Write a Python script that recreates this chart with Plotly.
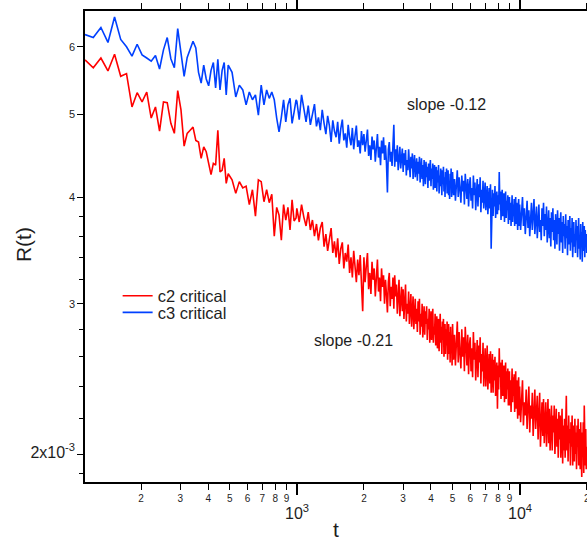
import math
import plotly.graph_objects as go

# ---------------- data ----------------
# time grid (simulation sampling)
t_early = list(range(112, 500, 10))
t_mid = list(range(512, 1000, 20))
t_late = (list(range(1000, 2000, 25)) + list(range(2000, 5000, 25))
          + list(range(5000, 10000, 50)) + list(range(10000, 20001, 100)))
t = t_early + t_mid + t_late

# R(t) in units of 1e-3
c2_early = [5.79, 5.67, 5.82, 5.62, 5.88, 5.54, 5.58, 5.10, 5.30, 5.17,
            5.31, 4.95, 5.10, 4.78, 5.17, 5.16, 4.88, 4.75, 5.33, 5.06,
            4.59, 4.75, 4.79, 4.83, 4.66, 4.64, 4.44, 4.58, 4.52, 4.36,
            4.25, 4.38, 4.36, 4.79, 4.28, 4.30, 4.44, 4.15, 4.26]
c2_mid = [4.19, 4.04, 4.17, 4.10, 4.12, 3.92, 4.08, 3.80, 4.19, 4.17,
          3.95, 4.08, 3.94, 4.03, 3.60, 3.89, 3.81, 3.56, 3.92, 3.76,
          3.89, 3.66, 3.97, 3.75, 3.78]
c2_late = [
    # 1000-1975
    3.88, 3.74, 3.92, 3.79, 3.70, 3.84, 3.66, 3.76, 3.60, 3.72,
    3.56, 3.68, 3.74, 3.50, 3.62, 3.46, 3.58, 3.68, 3.44, 3.55,
    3.40, 3.58, 3.34, 3.48, 3.54, 3.30, 3.44, 3.36, 3.52, 3.26,
    3.40, 3.22, 3.46, 3.30, 3.18, 3.38, 3.24, 3.42, 3.20, 2.94,
    # 2000-4975
    3.40, 3.18, 3.32, 3.44, 3.12, 3.26, 3.08, 3.36, 3.20, 3.30,
    3.06, 3.28, 3.38, 3.10, 3.22, 3.02, 3.30, 3.14, 3.24, 3.00,
    3.20, 3.08, 2.93, 3.18, 3.26, 2.98, 3.14, 3.04, 3.22, 2.96,
    3.24, 3.06, 3.16, 2.92, 3.10, 3.20, 2.90, 3.04, 3.14, 2.94,
    3.12, 2.88, 3.06, 3.16, 2.86, 3.00, 2.92, 3.10, 2.84, 3.02,
    3.08, 2.82, 2.98, 3.06, 2.80, 2.94, 3.04, 2.84, 2.96, 2.78,
    3.02, 2.86, 3.04, 2.76, 2.92, 2.82, 3.00, 2.74, 2.90, 2.98,
    2.76, 2.94, 2.84, 2.98, 2.72, 2.88, 2.80, 2.96, 2.70, 2.86,
    2.94, 2.72, 2.86, 2.96, 2.70, 2.82, 2.76, 2.92, 2.68, 2.84,
    2.90, 2.66, 2.80, 2.88, 2.64, 2.78, 2.92, 2.70, 2.82, 2.62,
    2.86, 2.72, 2.88, 2.60, 2.76, 2.84, 2.62, 2.80, 2.68, 2.86,
    2.58, 2.74, 2.84, 2.62, 2.78, 2.56, 2.82, 2.66, 2.74, 2.54,
    # 5000-9950
    2.84, 2.58, 2.76, 2.54, 2.70, 2.86, 2.56, 2.78, 2.62, 2.52,
    2.80, 2.60, 2.74, 2.50, 2.82, 2.64, 2.54, 2.76, 2.48, 2.68,
    2.74, 2.50, 2.66, 2.46, 2.78, 2.58, 2.70, 2.44, 2.62, 2.72,
    2.46, 2.68, 2.56, 2.74, 2.42, 2.62, 2.50, 2.70, 2.40, 2.58,
    2.66, 2.40, 2.56, 2.68, 2.38, 2.54, 2.62, 2.42, 2.64, 2.36,
    2.52, 2.62, 2.36, 2.58, 2.44, 2.60, 2.34, 2.50, 2.56, 2.26,
    2.54, 2.38, 2.66, 2.46, 2.56, 2.32, 2.48, 2.58, 2.34, 2.44,
    2.54, 2.30, 2.46, 2.56, 2.32, 2.50, 2.38, 2.52, 2.28, 2.44,
    2.50, 2.28, 2.44, 2.24, 2.42, 2.52, 2.30, 2.46, 2.34, 2.48,
    2.24, 2.40, 2.50, 2.26, 2.44, 2.32, 2.20, 2.42, 2.46, 2.22,
    # 10000-20000
    2.40, 2.18, 2.34, 2.44, 2.16, 2.30, 2.22, 2.38, 2.14, 2.32,
    2.40, 2.12, 2.28, 2.20, 2.36, 2.10, 2.26, 2.38, 2.14, 2.24,
    2.34, 2.08, 2.26, 2.36, 2.04, 2.22, 2.30, 2.10, 2.32, 2.06,
    2.24, 2.30, 2.04, 2.20, 2.32, 2.06, 2.26, 2.02, 2.18, 2.28,
    2.02, 2.22, 2.12, 2.28, 2.00, 2.18, 2.26, 2.04, 2.20, 1.98,
    2.24, 2.08, 2.22, 1.98, 2.14, 2.26, 1.95, 2.16, 2.02, 2.20,
    1.98, 2.18, 2.34, 2.02, 2.16, 1.96, 2.22, 2.06, 2.14, 1.94,
    2.18, 2.04, 2.22, 1.94, 2.10, 2.16, 1.96, 2.20, 2.00, 2.12,
    1.92, 2.16, 2.04, 2.20, 1.94, 2.08, 2.14, 1.92, 2.18, 2.00,
    1.88, 2.12, 2.02, 2.18, 1.90, 2.28, 2.06, 1.94, 2.14, 1.92,
    2.04]

c3_early = [6.20, 6.15, 6.32, 6.07, 6.50, 6.12, 6.00, 5.85, 6.04, 5.87,
            5.82, 5.77, 5.86, 5.65, 5.95, 6.15, 5.81, 5.67, 6.30, 5.86,
            5.54, 5.83, 5.95, 6.09, 5.98, 5.60, 5.44, 5.71, 5.50, 5.40,
            5.63, 5.75, 5.37, 5.80, 5.34, 5.63, 5.75, 5.27, 5.71]
c3_mid = [5.60, 5.24, 5.41, 5.34, 5.13, 5.31, 5.20, 5.27, 4.99, 5.41,
          5.13, 5.34, 5.22, 5.31, 5.20, 4.95, 4.77, 4.96, 5.20, 4.90,
          5.13, 5.22, 4.88, 5.03, 5.20]
c3_late = [
    # 1000-1975
    5.18, 4.93, 5.27, 5.08, 4.90, 5.12, 4.86, 5.00, 5.14, 4.84,
    4.96, 4.79, 5.06, 4.88, 4.74, 4.98, 4.85, 4.64, 4.92, 4.78,
    4.70, 4.90, 4.62, 4.81, 4.93, 4.66, 4.75, 4.57, 4.86, 4.70,
    4.60, 4.82, 4.55, 4.72, 4.85, 4.58, 4.66, 4.50, 4.78, 4.60,
    # 2000-4975
    4.74, 4.52, 4.68, 4.80, 4.47, 4.60, 4.42, 4.71, 4.55, 4.66,
    4.40, 4.62, 4.74, 4.45, 4.58, 4.36, 4.66, 4.50, 4.70, 4.42,
    4.60, 4.38, 4.05, 4.55, 4.64, 4.40, 4.52, 4.35, 4.62, 4.86,
    4.34, 4.55, 4.40, 4.60, 4.30, 4.48, 4.58, 4.32, 4.44, 4.56,
    4.28, 4.50, 4.36, 4.54, 4.24, 4.42, 4.30, 4.55, 4.38, 4.22,
    4.46, 4.32, 4.50, 4.20, 4.38, 4.48, 4.22, 4.34, 4.44, 4.18,
    4.40, 4.26, 4.46, 4.16, 4.32, 4.44, 4.20, 4.36, 4.12, 4.42,
    4.28, 4.14, 4.40, 4.22, 4.34, 4.10, 4.38, 4.18, 4.30, 4.42,
    4.12, 4.32, 4.20, 4.38, 4.08, 4.26, 4.36, 4.10, 4.22, 4.34,
    4.06, 4.30, 4.16, 4.36, 4.04, 4.24, 4.12, 4.32, 4.20, 4.02,
    4.30, 4.14, 4.34, 4.06, 4.22, 4.00, 4.28, 4.16, 4.32, 4.04,
    4.20, 4.30, 4.02, 4.18, 3.98, 4.26, 4.10, 4.32, 4.00, 4.22,
    # 5000-9950
    4.28, 4.02, 4.20, 3.96, 4.14, 4.30, 4.00, 4.22, 4.08, 3.94,
    4.24, 4.06, 4.18, 3.92, 4.26, 4.04, 3.98, 4.20, 3.90, 4.12,
    4.22, 3.96, 4.10, 3.88, 4.24, 4.02, 4.16, 3.86, 4.06, 4.20,
    3.90, 4.14, 4.00, 4.22, 3.84, 4.08, 3.94, 4.18, 3.88, 4.04,
    4.16, 3.86, 4.02, 4.12, 3.82, 3.98, 4.10, 3.88, 4.14, 3.48,
    3.94, 4.08, 3.80, 4.04, 3.90, 4.12, 3.78, 3.96, 4.06, 3.82,
    4.02, 3.86, 4.28, 3.92, 4.06, 3.76, 3.98, 4.08, 3.80, 3.94,
    4.04, 3.74, 3.92, 4.06, 3.78, 3.96, 3.86, 4.02, 3.72, 3.90,
    4.00, 3.76, 3.94, 3.70, 3.88, 4.02, 3.74, 3.92, 3.80, 3.98,
    3.70, 3.86, 4.00, 3.72, 3.94, 3.78, 3.66, 3.90, 3.98, 3.70,
    # 10000-20000
    3.92, 3.66, 3.84, 4.00, 3.70, 3.88, 3.62, 3.80, 3.96, 3.68,
    3.86, 3.60, 3.78, 3.94, 3.66, 3.84, 3.98, 3.62, 3.74, 3.90,
    3.58, 3.80, 3.92, 3.64, 3.76, 3.56, 3.88, 3.70, 3.94, 3.60,
    3.82, 3.66, 3.90, 3.54, 3.74, 3.86, 3.58, 3.78, 3.50, 3.84,
    3.64, 3.88, 3.56, 3.76, 3.48, 3.82, 3.68, 3.52, 3.86, 3.62,
    3.78, 3.46, 3.70, 3.84, 3.54, 3.74, 3.44, 3.80, 3.60, 3.72,
    3.48, 3.82, 3.58, 3.70, 3.42, 3.76, 3.52, 3.66, 3.80, 3.46,
    3.68, 3.54, 3.78, 3.40, 3.64, 3.74, 3.50, 3.62, 3.44, 3.76,
    3.56, 3.70, 3.40, 3.66, 3.78, 3.48, 3.60, 3.38, 3.72, 3.52,
    3.64, 3.36, 3.74, 3.46, 3.58, 3.70, 3.40, 3.66, 3.50, 3.62,
    3.44]

c2 = c2_early + c2_mid + c2_late
c3 = c3_early + c3_mid + c3_late

series_names = ["c2 critical", "c3 critical"]
series_colors = ["#ff0000", "#0040ff"]

x_tick_vals = [200, 300, 400, 500, 600, 700, 800, 900,
               2000, 3000, 4000, 5000, 6000, 7000, 8000, 9000, 20000]
x_tick_text = ["2", "3", "4", "5", "6", "7", "8", "9",
               "2", "3", "4", "5", "6", "7", "8", "9", "2"]
x_decades = [1000, 10000]
x_decade_text = ["10<sup>3</sup>", "10<sup>4</sup>"]

y_tick_vals = [2, 3, 4, 5, 6]
y_tick_text = ['<span style="font-size:16px">2x10<sup>-3</sup></span>', "3", "4", "5", "6"]
y_minor_vals = [1.9, 2.2, 2.4, 2.6, 2.8, 3.2, 3.4, 3.6, 3.8]

x_range = [112, 20060]
y_range = [1.855, 6.607]

slopes = [("slope -0.12", 4720, 5.13), ("slope -0.21", 1789, 2.72)]

# ---------------- figure ----------------
FONT = "Liberation Sans, Arial, sans-serif"
TXT = "#1e1e1e"

fig = go.Figure()
fig.add_trace(go.Scatter(x=t, y=c2, mode="lines", name=series_names[0],
                         line=dict(color=series_colors[0], width=1.6), legend="legend"))
fig.add_trace(go.Scatter(x=t, y=c3, mode="lines", name=series_names[1],
                         line=dict(color=series_colors[1], width=1.6), legend="legend2"))

for txt, xv, yv in slopes:
    fig.add_annotation(x=math.log10(xv), y=math.log10(yv), xref="x", yref="y",
                       text=txt, showarrow=False,
                       font=dict(family=FONT, size=16, color=TXT))

for v, txt in zip(x_decades, x_decade_text):
    fig.add_annotation(x=math.log10(v), y=-0.0635, xref="x", yref="paper",
                       text=txt, showarrow=False, yanchor="middle",
                       font=dict(family=FONT, size=16, color=TXT))

# y-axis title
fig.add_annotation(x=-0.1235, y=0.503, xref="paper", yref="paper", text="R(t)",
                   textangle=-90, showarrow=False, xanchor="center", yanchor="middle",
                   font=dict(family=FONT, size=21, color=TXT))

legend_common = dict(xanchor="left", yanchor="middle", bgcolor="rgba(0,0,0,0)",
                     borderwidth=0, font=dict(family=FONT, size=16.5, color=TXT),
                     itemwidth=30, tracegroupgap=0)

fig.update_layout(
    width=587, height=543,
    margin=dict(l=85, r=0, t=11, b=61, autoexpand=False),
    paper_bgcolor="white", plot_bgcolor="white",
    font=dict(family=FONT, color=TXT),
    showlegend=True,
    legend=dict(x=0.065, y=0.395, **legend_common),
    legend2=dict(x=0.065, y=0.3595, **legend_common),
    xaxis=dict(
        type="log", range=[math.log10(x_range[0]), math.log10(x_range[1])],
        showgrid=False, zeroline=False,
        showline=True, linecolor="black", linewidth=1.5, mirror="allticks",
        ticks="outside", ticklen=6, tickwidth=1, tickcolor="black",
        tickmode="array", tickvals=x_tick_vals, ticktext=x_tick_text,
        tickfont=dict(family=FONT, size=10, color=TXT),
        ticklabeloverflow="allow",
        minor=dict(tickmode="array", tickvals=x_decades, ticks="outside",
                   ticklen=11, tickwidth=1.5, tickcolor="black", showgrid=False),
        title=dict(text="t", font=dict(family=FONT, size=21, color=TXT), standoff=20),
        automargin=False,
    ),
    yaxis=dict(
        type="log", range=[math.log10(y_range[0]), math.log10(y_range[1])],
        showgrid=False, zeroline=False,
        showline=True, linecolor="black", linewidth=1.5, mirror=False,
        ticks="outside", ticklen=6, tickwidth=1, tickcolor="black",
        tickmode="array", tickvals=y_tick_vals, ticktext=y_tick_text,
        tickfont=dict(family=FONT, size=11, color=TXT),
        minor=dict(tickmode="array", tickvals=y_minor_vals, ticks="outside",
                   ticklen=4, tickwidth=1, tickcolor="black", showgrid=False),
        automargin=False,
    ),
)

fig.write_html("out.html")
